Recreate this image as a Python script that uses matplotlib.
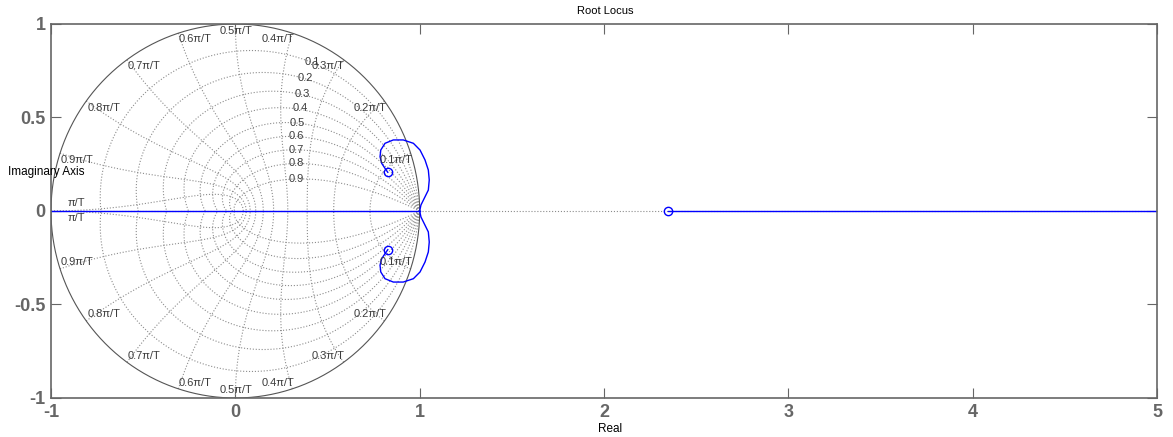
import numpy as np
import matplotlib.pyplot as plt

plt.rcParams['font.family'] = ['Liberation Sans', 'DejaVu Sans']

# root locus branch (upper half, mirrored for the lower half)
locus_re = [1.000, 1.007, 1.029, 1.047, 1.052, 1.047, 1.029, 1.002, 0.966,
            0.911, 0.857, 0.812, 0.789, 0.785, 0.794, 0.812, 0.827]
locus_im = [0.000, 0.032, 0.076, 0.112, 0.166, 0.219, 0.273, 0.326, 0.362,
            0.380, 0.380, 0.362, 0.326, 0.290, 0.255, 0.228, 0.207]
# real-axis parts of the locus
real_segments = [(-1.0, 1.0), (2.347, 5.2)]
# zeros
zeros_re = [0.827, 0.827, 2.347]
zeros_im = [0.207, -0.207, 0.0]

# zgrid values
zetas = [0.1, 0.2, 0.3, 0.4, 0.5, 0.6, 0.7, 0.8, 0.9]
wn_fracs = [0.1, 0.2, 0.3, 0.4, 0.5, 0.6, 0.7, 0.8, 0.9, 1.0]
zeta_labels = ['0.1', '0.2', '0.3', '0.4', '0.5', '0.6', '0.7', '0.8', '0.9']
zeta_label_pos = [(0.416, 0.797), (0.378, 0.711), (0.362, 0.626), (0.351, 0.551),
                  (0.335, 0.471), (0.329, 0.401), (0.329, 0.326), (0.329, 0.257),
                  (0.329, 0.171)]
wn_labels = ['0.1\u03c0/T', '0.2\u03c0/T', '0.3\u03c0/T', '0.4\u03c0/T', '0.5\u03c0/T',
             '0.6\u03c0/T', '0.7\u03c0/T', '0.8\u03c0/T', '0.9\u03c0/T', '\u03c0/T']
wn_label_pos = [(0.872, 0.273), (0.731, 0.551), (0.503, 0.775), (0.232, 0.920),
                (0.004, 0.960), (-0.219, 0.920), (-0.495, 0.775), (-0.712, 0.551),
                (-0.859, 0.273), (-0.864, 0.045)]

fig = plt.figure(figsize=(11.73, 4.37), dpi=100)
ax = fig.add_axes([51 / 1173, 1 - 398 / 437, (1157 - 51) / 1173, (398 - 24) / 437])

grid_c = '#8c8c8c'
lab_c = '#3c3c3c'

# zgrid: damping curves
for z in zetas:
    th = np.linspace(0, np.pi, 300)
    r = np.exp(-z * th / np.sqrt(1 - z ** 2))
    ax.plot(r * np.cos(th), r * np.sin(th), ls=':', color=grid_c, lw=0.8)
    ax.plot(r * np.cos(th), -r * np.sin(th), ls=':', color=grid_c, lw=0.8)

# zgrid: natural frequency curves
for f in wn_fracs:
    w = f * np.pi
    zz = np.linspace(0, 1, 200)
    r = np.exp(-zz * w)
    th = w * np.sqrt(1 - zz ** 2)
    ax.plot(r * np.cos(th), r * np.sin(th), ls=':', color=grid_c, lw=0.8)
    ax.plot(r * np.cos(th), -r * np.sin(th), ls=':', color=grid_c, lw=0.8)

# unit circle
t = np.linspace(0, 2 * np.pi, 500)
ax.plot(np.cos(t), np.sin(t), color='#555555', lw=0.8)
ax.axhline(0, ls=':', color=grid_c, lw=0.8)

for lab, (x, y) in zip(zeta_labels, zeta_label_pos):
    ax.text(x, y, lab, fontsize=8, color=lab_c, ha='center', va='center')
for lab, (x, y) in zip(wn_labels, wn_label_pos):
    ax.text(x, y, lab, fontsize=8, color=lab_c, ha='center', va='center')
    yl = -y if lab != '\u03c0/T' else -0.04
    if lab == '0.5\u03c0/T':
        yl = -0.955
    ax.text(x, yl, lab, fontsize=8, color=lab_c, ha='center', va='center')

# locus
ax.plot(locus_re, locus_im, color='#0000ff', lw=1.0)
ax.plot(locus_re, [-v for v in locus_im], color='#0000ff', lw=1.0)
for a, b in real_segments:
    ax.plot([a, b], [0, 0], color='#0000ff', lw=1.0)
ax.plot(zeros_re, zeros_im, 'o', mfc='none', mec='#0000ff', ms=6, mew=1)

ax.set_xlim(-1, 5)
ax.set_ylim(-1, 1)
ax.set_xticks([-1, 0, 1, 2, 3, 4, 5])
ax.set_yticks([-1, -0.5, 0, 0.5, 1])
ax.set_xticklabels(['-1', '0', '1', '2', '3', '4', '5'])
ax.set_yticklabels(['-1', '-0.5', '0', '0.5', '1'])
ax.tick_params(direction='in', length=7, color='#666666', top=True, right=True,
               labelsize=13, labelcolor='#666666', pad=4)
for lbl in ax.get_xticklabels() + ax.get_yticklabels():
    lbl.set_fontweight('bold')
for s in ax.spines.values():
    s.set_color('#666666')
    s.set_linewidth(1.2)

fig.text(605 / 1173, 1 - 11 / 437, 'Root Locus', fontsize=8, ha='center', va='center')
fig.text(610 / 1173, 1 - 429 / 437, 'Real', fontsize=8.5, ha='center', va='center')
fig.text(8 / 1173, 1 - 172 / 437, 'Imaginary Axis', fontsize=8.5, ha='left', va='center')

fig.savefig('out.png', dpi=100)
